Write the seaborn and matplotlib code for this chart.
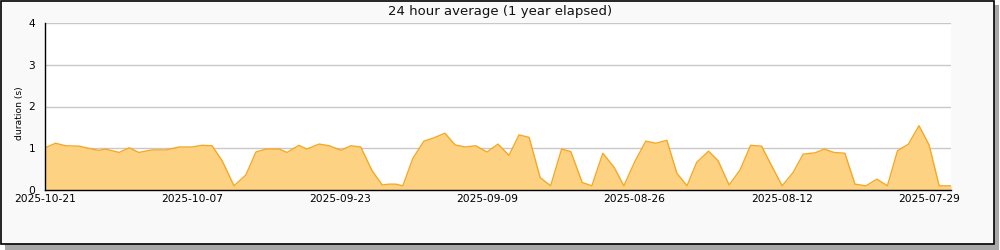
import matplotlib
matplotlib.use("Agg")
import matplotlib.pyplot as plt
from matplotlib.patches import Rectangle
import seaborn as sns
import pandas as pd

# ---- data ----
timestamps = [
    "2025-10-21 00:00", "2025-10-20 00:00", "2025-10-19 01:00", "2025-10-17 18:00",
    "2025-10-16 13:00", "2025-10-15 21:00", "2025-10-15 06:00", "2025-10-13 23:00",
    "2025-10-13 00:00", "2025-10-12 02:00", "2025-10-10 20:00", "2025-10-09 12:00",
    "2025-10-08 06:00", "2025-10-07 01:00", "2025-10-06 02:00", "2025-10-05 03:00",
    "2025-10-04 04:00", "2025-10-03 01:00", "2025-10-01 22:00", "2025-09-30 23:00",
    "2025-09-30 00:00", "2025-09-28 18:00", "2025-09-28 00:00", "2025-09-26 21:00",
    "2025-09-26 03:00", "2025-09-24 23:00", "2025-09-24 00:00", "2025-09-22 21:00",
    "2025-09-21 23:00", "2025-09-21 00:00", "2025-09-19 22:00", "2025-09-18 23:00",
    "2025-09-18 07:00", "2025-09-17 16:00", "2025-09-17 00:00", "2025-09-16 01:00",
    "2025-09-15 00:00", "2025-09-14 01:00", "2025-09-13 00:00", "2025-09-12 01:00",
    "2025-09-11 02:00", "2025-09-10 02:00", "2025-09-09 00:00", "2025-09-07 23:00",
    "2025-09-06 22:00", "2025-09-05 23:00", "2025-09-05 00:00", "2025-09-03 23:00",
    "2025-09-02 23:00", "2025-09-01 22:00", "2025-09-01 01:00", "2025-08-30 23:00",
    "2025-08-30 01:00", "2025-08-29 00:00", "2025-08-27 22:00", "2025-08-27 00:00",
    "2025-08-25 23:00", "2025-08-24 22:00", "2025-08-23 23:00", "2025-08-22 22:00",
    "2025-08-21 23:00", "2025-08-21 00:00", "2025-08-20 02:00", "2025-08-18 23:00",
    "2025-08-18 01:00", "2025-08-17 00:00", "2025-08-15 23:00", "2025-08-14 23:00",
    "2025-08-13 22:00", "2025-08-12 21:00", "2025-08-11 23:00", "2025-08-10 22:00",
    "2025-08-09 23:00", "2025-08-08 20:00", "2025-08-07 23:00", "2025-08-07 01:00",
    "2025-08-06 00:00", "2025-08-05 01:00", "2025-08-04 00:00", "2025-08-02 23:00",
    "2025-08-01 23:00", "2025-08-01 00:00", "2025-07-30 23:00", "2025-07-29 23:00",
    "2025-07-29 00:00", "2025-07-28 01:00", "2025-07-26 22:00",
]
durations = [
    1.01, 1.12, 1.06, 1.05,
    0.98, 0.95, 0.98, 0.90,
    1.01, 0.90, 0.96, 0.96,
    1.03, 1.03, 1.07, 1.06,
    0.70, 0.10, 0.36, 0.91,
    0.98, 0.98, 0.90, 1.07,
    0.98, 1.10, 1.06, 0.95,
    1.06, 1.03, 0.46, 0.12,
    0.14, 0.14, 0.10, 0.76,
    1.17, 1.25, 1.36, 1.08,
    1.03, 1.06, 0.91, 1.10,
    0.83, 1.32, 1.26, 0.30,
    0.10, 0.98, 0.92, 0.18,
    0.10, 0.88, 0.54, 0.10,
    0.68, 1.17, 1.12, 1.19,
    0.40, 0.10, 0.66, 0.93,
    0.70, 0.12, 0.48, 1.07,
    1.05, 0.54, 0.10, 0.42,
    0.86, 0.89, 0.98, 0.90,
    0.88, 0.14, 0.10, 0.26,
    0.10, 0.94, 1.10, 1.54,
    1.08, 0.10, 0.10,
]
tick_labels = ["2025-10-21", "2025-10-07", "2025-09-23", "2025-09-09",
               "2025-08-26", "2025-08-12", "2025-07-29"]
title = "24 hour average (1 year elapsed)"
y_label = "duration (s)"
x_start = "2025-10-21 00:00"
x_end = "2025-07-26 22:00"

df = pd.DataFrame({"time": pd.to_datetime(timestamps), "duration": durations})

sns.set_theme(style="white")
plt.rcParams["font.family"] = ["DejaVu Sans"]

fill_color = "#fdd282"
line_color = "#f7a823"

fig = plt.figure(figsize=(10, 2.5), dpi=100)
fig.patch.set_facecolor("white")

# frame with shadow (drawn beneath the axes)
fig.patches.append(Rectangle((5 / 1000, 0.0), 994 / 1000, 1 - 5 / 250,
                             transform=fig.transFigure, facecolor="#a8a8a8",
                             edgecolor="none", zorder=-3))
fig.patches.append(Rectangle((0.5 / 1000, 6 / 250), 993 / 1000, 1 - 6.5 / 250,
                             transform=fig.transFigure, facecolor="#f9f9f9",
                             edgecolor="black", linewidth=1.2, zorder=-2))

ax = fig.add_axes([45 / 1000, 60 / 250, 906 / 1000, 167 / 250])
ax.set_zorder(5)
ax.set_facecolor("white")

ax.fill_between(df["time"], 0, df["duration"], color=fill_color, linewidth=0, zorder=2)
sns.lineplot(data=df, x="time", y="duration", ax=ax, color=line_color,
             linewidth=1.0, estimator=None, sort=False, zorder=3)

major = pd.to_datetime(tick_labels)
minor = (major - pd.Timedelta(days=7))[:-1]
ax.set_xticks(list(major))
ax.set_xticklabels(tick_labels)
ax.set_xticks(list(minor), minor=True)
ax.set_yticks([0, 1, 2, 3, 4])
ax.set_yticks([0.5, 1.5, 2.5, 3.5], minor=True)

ax.set_xlim(pd.Timestamp(x_start), pd.Timestamp(x_end))
ax.set_ylim(0, 4)

ax.grid(axis="y", which="major", color="#c8c8c8", linewidth=1.0, zorder=1)
ax.set_axisbelow(True)
for s in ["top", "right"]:
    ax.spines[s].set_visible(False)
for s in ["left", "bottom"]:
    ax.spines[s].set_color("black")
    ax.spines[s].set_linewidth(1.0)
    ax.spines[s].set_zorder(4)

ax.tick_params(axis="both", which="major", direction="in", length=5, width=1,
               colors="black", labelsize=7.7)
ax.tick_params(axis="x", which="minor", direction="in", length=5, width=1, colors="black")
ax.tick_params(axis="y", which="minor", direction="in", length=3, width=1, colors="black")
ax.tick_params(axis="y", which="major", pad=7)
ax.tick_params(axis="x", which="major", pad=3)

ax.set_xlabel("")
ax.set_ylabel(y_label, fontsize=6.6, color="black")
ax.yaxis.set_label_coords(-0.023, 0.46)
fig.text(0.5, 1 - 11 / 250, title, ha="center", va="center", fontsize=9.5, color="#111111")

fig.savefig("out.png", dpi=100)
